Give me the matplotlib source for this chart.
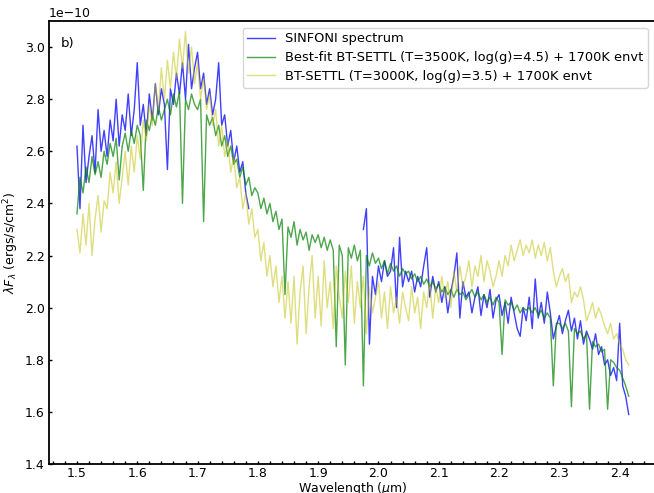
import numpy as np
import matplotlib
matplotlib.use("Agg")
import matplotlib.pyplot as plt
from matplotlib.ticker import MultipleLocator

# ---- data (lambda F_lambda in units of 1e-10 ergs/s/cm^2) ----
wl_start, wl_step = 1.500, 0.005

model_3500 = [  # Best-fit BT-SETTL (T=3500K, log(g)=4.5) + 1700K envt, 1.500-2.415
    2.36, 2.50, 2.44, 2.54, 2.48, 2.58, 2.51, 2.56, 2.50, 2.60,
    2.55, 2.63, 2.58, 2.65, 2.49, 2.62, 2.67, 2.60, 2.68, 2.63,
    2.70, 2.66, 2.45, 2.72, 2.68, 2.74, 2.70, 2.77, 2.72, 2.76,
    2.80, 2.74, 2.82, 2.77, 2.83, 2.40, 2.80, 2.76, 2.82, 2.78,
    2.76, 2.80, 2.33, 2.74, 2.70, 2.73, 2.66, 2.70, 2.62, 2.66,
    2.58, 2.62, 2.55, 2.57, 2.50, 2.54, 2.47, 2.50, 2.43, 2.46,
    2.44, 2.38, 2.42, 2.36, 2.40, 2.33, 2.37, 2.30, 2.34, 2.05,
    2.31, 2.27, 2.33, 2.24, 2.30, 2.26, 2.29, 2.22, 2.28, 2.25,
    2.28, 2.23, 2.27, 2.22, 2.26, 2.22, 1.85, 2.24, 2.20, 1.78,
    2.23, 2.19, 2.24, 2.18, 2.22, 1.70, 2.20, 2.16, 2.21, 2.17,
    2.19, 2.15, 2.18, 2.13, 2.17, 2.14, 2.16, 2.12, 2.15, 2.13,
    2.14, 2.11, 2.13, 2.10, 2.12, 2.09, 2.11, 2.08, 2.10, 2.07,
    2.09, 2.06, 2.08, 2.05, 2.07, 2.04, 2.07, 2.05, 2.06, 2.03,
    2.05, 2.07, 2.04, 2.06, 2.03, 2.05, 2.02, 2.04, 2.01, 2.04,
    2.02, 1.82, 2.03, 2.01, 2.02, 1.99, 2.01, 1.98, 2.00, 1.99,
    2.00, 1.98, 2.00, 1.97, 1.99, 1.96, 1.98, 1.96, 1.70, 1.94,
    1.94, 1.92, 1.94, 1.91, 1.62, 1.92, 1.90, 1.91, 1.88, 1.90,
    1.61, 1.87, 1.85, 1.86, 1.83, 1.84, 1.61, 1.80, 1.79, 1.77,
    1.76, 1.73, 1.70, 1.66,
]

model_3000 = [  # BT-SETTL (T=3000K, log(g)=3.5) + 1700K envt, 1.500-2.415
    2.30, 2.21, 2.36, 2.24, 2.40, 2.20, 2.34, 2.43, 2.29, 2.41,
    2.38, 2.52, 2.44, 2.56, 2.40, 2.50, 2.60, 2.47, 2.62, 2.52,
    2.66, 2.57, 2.72, 2.64, 2.78, 2.70, 2.86, 2.76, 2.92, 2.80,
    2.95, 2.84, 2.98, 2.88, 3.03, 2.92, 3.06, 2.90, 3.00, 2.86,
    2.94, 2.80, 2.88, 2.76, 2.82, 2.70, 2.76, 2.62, 2.70, 2.58,
    2.64, 2.52, 2.58, 2.46, 2.50, 2.38, 2.44, 2.32, 2.38, 2.27,
    2.30, 2.18, 2.25, 2.12, 2.20, 2.08, 2.16, 2.02, 2.12, 1.96,
    2.10, 1.94, 2.12, 1.86, 2.06, 2.16, 1.90, 2.08, 2.20, 1.96,
    2.12, 1.93, 2.18, 2.00, 2.10, 1.92, 2.16, 2.04, 1.96, 2.14,
    2.02, 2.16, 1.94, 2.10, 2.00, 2.12, 1.90, 2.08, 1.98, 2.04,
    2.10, 1.96, 2.06, 1.92, 2.08, 1.98, 2.04, 1.94, 2.06, 2.00,
    1.95, 2.08, 1.98, 2.04, 1.92, 2.06, 2.00, 2.10, 1.96, 2.08,
    2.02, 2.12, 2.04, 2.10, 2.00, 2.14, 2.06, 2.16, 2.08, 2.12,
    2.18, 2.08, 2.16, 2.12, 2.20, 2.10, 2.18, 2.14, 2.08, 2.12,
    2.18, 2.12, 2.20, 2.16, 2.24, 2.18, 2.22, 2.26, 2.20, 2.24,
    2.21, 2.26, 2.19, 2.24, 2.20, 2.25, 2.18, 2.23, 2.14, 2.08,
    2.12, 2.15, 2.10, 2.13, 2.02, 2.06, 2.04, 2.08, 2.03, 1.95,
    1.98, 2.02, 1.96, 2.00, 1.97, 1.93, 1.90, 1.94, 1.88, 1.90,
    1.86, 1.84, 1.80, 1.78,
]

sinfoni_h_start = 1.500
sinfoni_h = [  # SINFONI, 1.500-1.785
    2.62, 2.38, 2.70, 2.48, 2.58, 2.66, 2.52, 2.76, 2.60, 2.68,
    2.58, 2.72, 2.64, 2.80, 2.62, 2.74, 2.68, 2.82, 2.66, 2.76,
    2.94, 2.70, 2.78, 2.66, 2.82, 2.72, 2.86, 2.74, 2.84, 2.78,
    2.53, 2.84, 2.78, 2.90, 2.82, 2.94, 2.80, 3.01, 2.84, 2.92,
    2.98, 2.84, 2.90, 2.78, 2.84, 2.74, 2.80, 2.94, 2.70, 2.74,
    2.62, 2.68, 2.56, 2.62, 2.52, 2.56, 2.44, 2.38,
]

sinfoni_k_start = 1.975
sinfoni_k = [  # SINFONI, 1.975-2.415
    2.30, 2.38, 1.86, 2.12, 2.05,
    2.16, 2.10, 2.18, 2.12, 2.14, 2.23, 2.00, 2.27, 2.08, 2.14,
    2.10, 2.14, 2.06, 2.12, 2.08, 2.16, 2.23, 2.04, 2.12, 2.06,
    2.10, 2.02, 2.08, 1.98, 2.06, 2.12, 2.21, 1.96, 2.10, 2.04,
    2.06, 1.98, 2.04, 2.08, 1.97, 2.05, 2.00, 2.07, 1.96, 2.03,
    2.05, 1.97, 2.02, 1.94, 2.04, 1.98, 1.92, 1.89, 2.00, 1.95,
    2.04, 1.92, 2.11, 1.96, 2.02, 1.94, 2.06, 1.98, 1.88, 1.93,
    1.97, 1.90, 1.95, 1.99, 1.91, 1.96, 1.88, 1.95, 1.86, 1.91,
    1.88, 1.84, 1.90, 1.82, 1.85, 1.78, 1.80, 1.74, 1.77, 1.72,
    1.94, 1.70, 1.66, 1.59,
]

labels = ["SINFONI spectrum",
          "Best-fit BT-SETTL (T=3500K, log(g)=4.5) + 1700K envt",
          "BT-SETTL (T=3000K, log(g)=3.5) + 1700K envt"]

scale = 1e-10


def grid(start, n):
    return start + wl_step * np.arange(n)


wl_model = grid(wl_start, len(model_3500))
wl_h = grid(sinfoni_h_start, len(sinfoni_h))
wl_k = grid(sinfoni_k_start, len(sinfoni_k))

fig = plt.figure(figsize=(6.54, 4.93), dpi=100)
ax = fig.add_axes([0.0749, 0.0588, 0.9281, 0.8986])

ax.plot(wl_h, np.array(sinfoni_h) * scale, color="blue", lw=1.0, alpha=0.75, label=labels[0])
ax.plot(wl_k, np.array(sinfoni_k) * scale, color="blue", lw=1.0, alpha=0.75)
ax.plot(wl_model, np.array(model_3500) * scale, color="green", lw=1.0, alpha=0.7, label=labels[1])
ax.plot(wl_model, np.array(model_3000) * scale, color="y", lw=1.0, alpha=0.5, label=labels[2])

ax.set_xlim(1.4536, 2.4602)
ax.set_ylim(1.4e-10, 3.1e-10)
ax.xaxis.set_major_locator(MultipleLocator(0.1))
ax.xaxis.set_minor_locator(MultipleLocator(0.02))
ax.yaxis.set_major_locator(MultipleLocator(0.2e-10))
ax.tick_params(axis="both", which="both", direction="in", length=2.5, width=1,
               labelsize=9, pad=3)
ax.tick_params(axis="x", which="both", pad=2)
ax.yaxis.get_offset_text().set_fontsize(9)
for s in ax.spines.values():
    s.set_linewidth(1.3)

ax.set_xlabel(r"Wavelength ($\mu$m)", fontsize=9, labelpad=0)
ax.set_ylabel(r"$\lambda F_\lambda$ (ergs/s/cm$^2$)", fontsize=9, labelpad=3)
ax.text(0.02, 0.965, "b)", transform=ax.transAxes, fontsize=9.5, va="top", ha="left")

ax.legend(loc="upper right", bbox_to_anchor=(0.987, 0.985), fontsize=9.4,
          handlelength=2.1, borderpad=0.35, labelspacing=0.45, handletextpad=0.8,
          borderaxespad=0.0, framealpha=0.8)

fig.savefig("out.png", dpi=100)
